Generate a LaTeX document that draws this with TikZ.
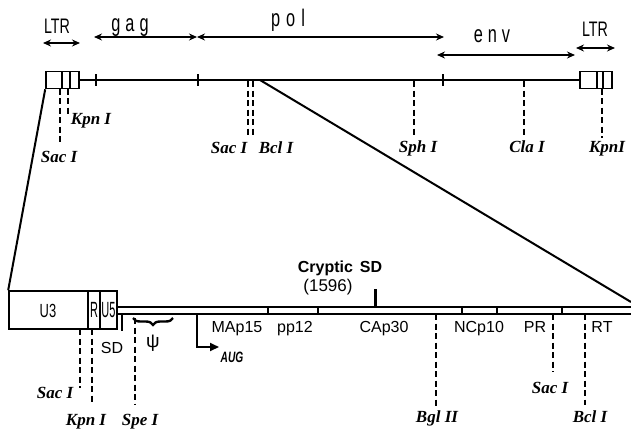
\documentclass[tikz,border=0pt]{standalone}
\usepackage{fontspec}
\setmainfont{Liberation Serif}
\setsansfont{Liberation Sans}
\newfontfamily\narrowfont[FakeStretch=0.68]{Liberation Sans}
\newfontfamily\squeezefont[FakeStretch=0.5]{Liberation Sans}
\usetikzlibrary{arrows.meta,decorations.pathreplacing}

\begin{document}
\begin{tikzpicture}[x=1pt, y=-1pt,
  gene/.style={font=\narrowfont\fontsize{24}{24}\selectfont, anchor=base, inner sep=0pt},
  ltr/.style={font=\narrowfont\fontsize{21}{21}\selectfont, anchor=base, inner sep=0pt},
  site/.style={font=\rmfamily\bfseries\itshape\fontsize{17}{17}\selectfont, anchor=base, inner sep=0pt},
  prot/.style={font=\sffamily\fontsize{16}{16}\selectfont, anchor=base, inner sep=0pt},
  ltrbox/.style={rectangle, draw, line width=1.6pt, inner sep=0pt},
  wire/.style={line width=2pt},
  cut/.style={line width=2.2pt, dash pattern=on 6pt off 3.5pt},
  extent/.style={{Stealth[length=8pt,width=7pt]}-{Stealth[length=8pt,width=7pt]}, line width=1.8pt},
]
\useasboundingbox (0,0) rectangle (631,431);
% provirus
\node[ltrbox, minimum width=33pt, minimum height=17pt] (ltrL) at (62.5,80) {};
\node[ltrbox, minimum width=32pt, minimum height=17pt] (ltrR) at (596,80) {};
\draw[line width=1.6pt] (62,71.5) -- (62,88.5) (70,71.5) -- (70,88.5);
\draw[line width=1.6pt] (597,71.5) -- (597,88.5) (603,71.5) -- (603,88.5);
\draw[wire] (ltrL.east) -- (ltrR.west);
\foreach \x in {96,198,443} \draw[wire] (\x,74) -- (\x,86);

\draw[extent] (43,43) -- (80,43);
\node[ltr] (ltrLt) at (57,33) {LTR};
\draw[extent] (94,37) -- (197,37);
\node[gene] (gag) at (130,31) {g\hspace{5pt}a\hspace{5pt}g};
\draw[extent] (197,37) -- (444,37);
\node[gene] (pol) at (288,27) {p\hspace{6pt}o\hspace{6pt}l};
\draw[extent] (437,55) -- (575,55);
\node[gene] (env) at (492,42) {e\hspace{5pt}n\hspace{5pt}v};
\draw[extent] (576,48) -- (615,48);
\node[ltr] (ltrRt) at (595,36) {LTR};

\draw[cut] (60,88.5) -- (60,143);
\draw[cut] (68,88.5) -- (68,114);
\node[site] (kpnA) at (91,124) {Kpn I};
\node[site] (sacA) at (59,162) {Sac I};
\draw[cut] (248,81) -- (248,136);
\draw[cut] (253,81) -- (253,136);
\node[site] (sacB) at (229,153) {Sac I};
\node[site] (bclA) at (276,153) {Bcl I};
\draw[cut] (414,81) -- (414,137);
\node[site] (sph) at (418,152) {Sph I};
\draw[cut] (524,81) -- (524,137);
\node[site] (cla) at (527,152) {Cla I};
\draw[cut] (602,88.5) -- (602,138);
\node[site] (kpnB) at (607,152) {KpnI};

% enlarged 5' region
\node[ltrbox, minimum width=108pt, minimum height=38pt] (u3) at (63,310) {};
\draw[line width=1.6pt] (88,291) -- (88,329) (100,291) -- (100,329);
\node[font=\narrowfont\fontsize{19}{19}\selectfont, anchor=base, inner sep=0pt] (u3t) at (48,317) {U3};
\node[font=\squeezefont\fontsize{22}{22}\selectfont, anchor=base, inner sep=0pt] (rt) at (94,317) {R};
\node[font=\squeezefont\fontsize{22}{22}\selectfont, anchor=base, inner sep=0pt] (u5t) at (108.5,317) {U5};

\coordinate (zoomA) at (260,80);
\coordinate (zoomB) at (631,302);
\draw[wire] (ltrL.south west) -- (u3.north west);
\draw[wire] (zoomA) -- (zoomB);

\draw[line width=2.2pt] (117,307) -- (631,307);
\draw[line width=1.6pt] (117,314) -- (631,314);
\foreach \x in {268,318,462,497,562} \draw[line width=1.6pt] (\x,307) -- (\x,314);
\draw[line width=3pt] (375,289) -- (375,307);
\node[font=\sffamily\bfseries\fontsize{16}{16}\selectfont, anchor=base, inner sep=0pt] (crypt) at (340,272) {Cryptic\hspace{7pt}SD};
\node[font=\sffamily\fontsize{17}{17}\selectfont, anchor=base, inner sep=0pt] (pos) at (328,291) {(1596)};

\node[prot] (ma) at (237,332) {MAp15};
\node[prot] (pp) at (295,332) {pp12};
\node[prot] (ca) at (384,332) {CAp30};
\node[prot] (nc) at (479,332) {NCp10};
\node[prot] (pr) at (535,332) {PR};
\node[prot] (rtp) at (602,332) {RT};

\draw[line width=1.6pt] (122,314) -- (122,331);
\node[prot] (sd) at (112,353) {SD};
\draw[line width=2.4pt, decorate, decoration={brace, amplitude=7pt, mirror}] (133,318) -- (173,318);
\node[font=\sffamily\fontsize{19}{19}\selectfont, inner sep=0pt] (psi) at (153,343) {ψ};
\draw[line width=2pt, -{Triangle[length=9pt,width=8pt]}] (197,314) -- (197,347) -- (219,347);
\node[font=\narrowfont\bfseries\itshape\fontsize{15}{15}\selectfont, anchor=base, inner sep=0pt] (aug) at (232,362) {AUG};

\draw[cut] (80,329) -- (80,388);
\node[site] (sacC) at (55,398) {Sac I};
\draw[cut] (92,329) -- (92,405);
\node[site] (kpnC) at (86,425) {Kpn I};
\draw[cut] (135,318) -- (135,405);
\node[site] (spe) at (140,425) {Spe I};
\draw[cut] (436,314) -- (436,407);
\node[site] (bgl) at (437,422) {Bgl II};
\draw[cut] (553,314) -- (553,372);
\node[site] (sacD) at (550,393) {Sac I};
\draw[cut] (585,314) -- (585,405);
\node[site] (bclB) at (590,422) {Bcl I};
\end{tikzpicture}
\end{document}
